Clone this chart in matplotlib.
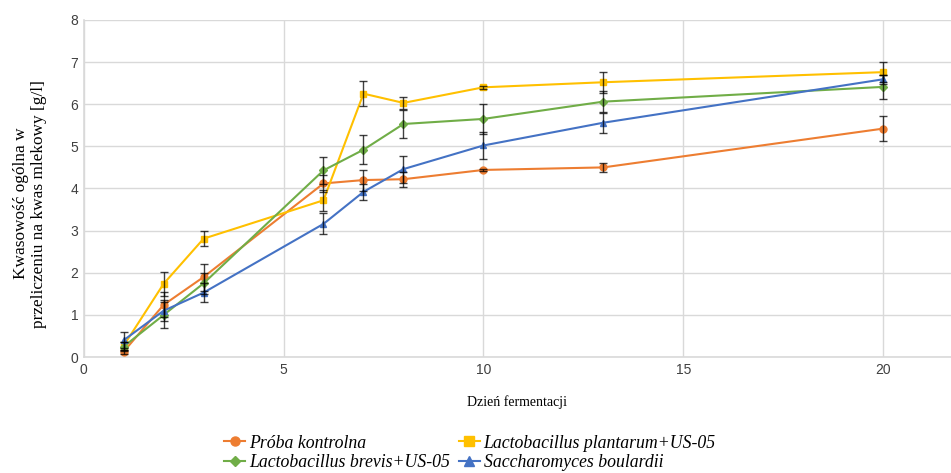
import matplotlib.pyplot as plt
import numpy as np

days = [1, 2, 3, 6, 7, 8, 10, 13, 20]

kontrolna = [0.13, 1.24, 1.90, 4.12, 4.20, 4.22, 4.44, 4.50, 5.42]
kontrolna_err = [0.05, 0.30, 0.32, 0.20, 0.25, 0.18, 0.03, 0.10, 0.29]

plantarum = [0.27, 1.74, 2.81, 3.72, 6.25, 6.03, 6.40, 6.52, 6.76]
plantarum_err = [0.10, 0.29, 0.17, 0.25, 0.29, 0.15, 0.03, 0.25, 0.24]

brevis = [0.25, 1.00, 1.75, 4.43, 4.92, 5.53, 5.65, 6.06, 6.41]
brevis_err = [0.10, 0.30, 0.25, 0.32, 0.35, 0.33, 0.36, 0.25, 0.29]

boulardii = [0.40, 1.10, 1.53, 3.16, 3.92, 4.46, 5.02, 5.56, 6.59]
boulardii_err = [0.19, 0.25, 0.22, 0.25, 0.19, 0.32, 0.32, 0.24, 0.10]

series = [
    ("Próba kontrolna", kontrolna, kontrolna_err, "#ED7D31", "o"),
    ("Lactobacillus plantarum+US-05", plantarum, plantarum_err, "#FFC000", "s"),
    ("Lactobacillus brevis+US-05", brevis, brevis_err, "#70AD47", "D"),
    ("Saccharomyces boulardii", boulardii, boulardii_err, "#4472C4", "^"),
]

fig = plt.figure(figsize=(9.51, 4.73), dpi=100)
ax = fig.add_axes([0.088, 0.245, 0.912, 0.713])

handles = []
for label, vals, err, color, marker in series:
    ms = 4 if marker == "D" else 5
    (ln,) = ax.plot(days, vals, color=color, marker=marker, markersize=ms, linewidth=1.5, label=label, zorder=3)
    ax.errorbar(days, vals, yerr=err, fmt="none", ecolor="black", elinewidth=1.0, capsize=3, capthick=1.0, alpha=0.75, zorder=4)
    handles.append(ln)

ax.set_xlim(0, 21.7)
ax.set_ylim(0, 8)
ax.set_xticks([0, 5, 10, 15, 20])
ax.set_yticks(np.arange(0, 9, 1))
ax.grid(True, color="#d9d9d9", linewidth=1.0, zorder=0)
ax.set_axisbelow(True)
for side in ("top", "right"):
    ax.spines[side].set_visible(False)
for side in ("left", "bottom"):
    ax.spines[side].set_color("#d9d9d9")
    ax.spines[side].set_linewidth(1.2)
ax.tick_params(length=0, labelsize=10, pad=4)
for t in ax.get_xticklabels() + ax.get_yticklabels():
    t.set_fontfamily("Liberation Sans")
    t.set_color("#404040")

ax.set_ylabel("Kwasowość ogólna w\nprzeliczeniu na kwas mlekowy [g/l]", fontfamily="Liberation Serif", fontsize=12.4)
ax.yaxis.set_label_coords(-0.042, 0.455)
ax.set_xlabel("Dzień fermentacji", fontfamily="Liberation Serif", fontsize=10, labelpad=13)

# legend fills column-wise, so reorder to get rows: kontrolna/plantarum, brevis/boulardii
order = [0, 2, 1, 3]
fig.legend(
    handles=[handles[i] for i in order],
    loc="lower center",
    bbox_to_anchor=(0.494, -0.03),
    ncol=2,
    frameon=False,
    prop={"family": "Liberation Serif", "style": "italic", "size": 12.8},
    handlelength=1.2,
    handletextpad=0.2,
    columnspacing=0.5,
    labelspacing=0.15,
    markerscale=1.3,
)

fig.savefig("out.png", dpi=100)
